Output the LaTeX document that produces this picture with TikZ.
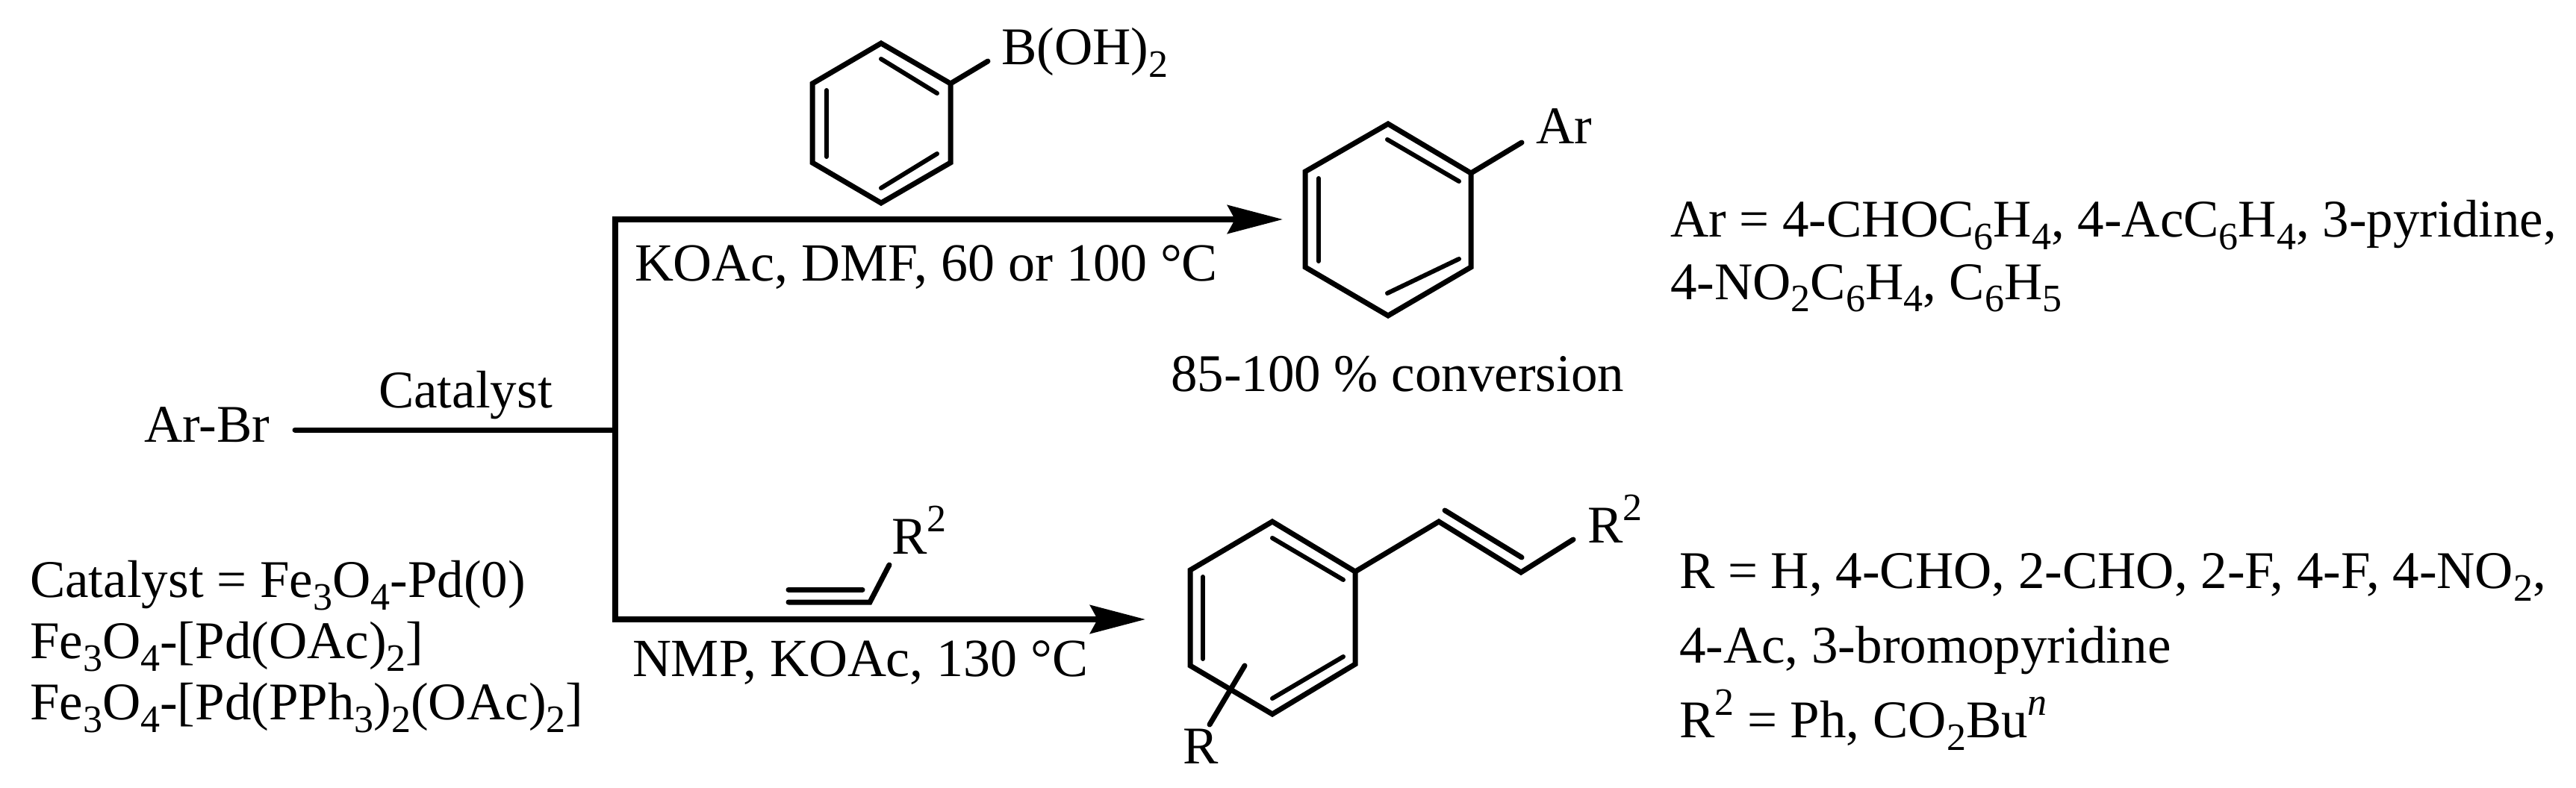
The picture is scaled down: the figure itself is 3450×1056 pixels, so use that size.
\documentclass[tikz,border=0pt]{standalone}
\usepackage{fontspec}
\setmainfont{Liberation Serif}
\usetikzlibrary{arrows.meta}
\newcommand{\lo}[1]{\raisebox{-17pt}{\fontsize{52}{52}\selectfont #1}}
\newcommand{\hi}[1]{\raisebox{30pt}{\fontsize{52}{52}\selectfont #1}}
\tikzset{
  x=1pt,y=-1pt,
  chemtext/.style={inner sep=0pt,outer sep=0pt,anchor=base west,font=\fontsize{71}{82}\selectfont},
  condtext/.style={chemtext,font=\fontsize{72}{82}\selectfont},
  bond/.style={line width=7pt,line cap=round,line join=miter,black},
  innerbond/.style={bond,line width=6pt},
  rxn/.style={line width=7.5pt,black},
  rxnhead/.style={rxn,-{Stealth[length=74pt,width=38pt,inset=10pt]}},
}
\begin{document}
\begin{tikzpicture}
\useasboundingbox (0,0) rectangle (3450,1056);
% texts
\node[chemtext] (arbr) at (193,592) {Ar-Br};
\node[chemtext] (cat) at (507,546) {Catalyst};
\node[chemtext] (c1) at (40,800) {Catalyst = Fe\lo{3}O\lo{4}-Pd(0)};
\node[chemtext] (c2) at (40,882) {Fe\lo{3}O\lo{4}-[Pd(OAc)\lo{2}]};
\node[chemtext] (c3) at (40,964) {Fe\lo{3}O\lo{4}-[Pd(PPh\lo{3})\lo{2}(OAc)\lo{2}]};
\node[condtext] (cond1) at (850,377) {KOAc, DMF, 60 or 100 °C};
\node[condtext] (cond2) at (847,906) {NMP, KOAc, 130 °C};
\node[chemtext] (boh) at (1341,87) {B(OH)\lo{2}};
\node[chemtext] (ar) at (2057,193) {Ar};
\node[chemtext] (conv) at (1568,524) {85-100 \% conversion};
\node[chemtext] (ralk) at (1194,742) {R\hi{2}};
\node[chemtext] (rprod) at (2126,727) {R\hi{2}};
\node[chemtext] (rsub) at (1584,1023) {R};
\node[chemtext] (a1) at (2237,318) {Ar = 4-CHOC\lo{6}H\lo{4}, 4-AcC\lo{6}H\lo{4}, 3-pyridine,};
\node[chemtext] (a2) at (2237,401) {4-NO\lo{2}C\lo{6}H\lo{4}, C\lo{6}H\lo{5}};
\node[chemtext] (r1) at (2249,788) {R = H, 4-CHO, 2-CHO, 2-F, 4-F, 4-NO\lo{2},};
\node[chemtext] (r2) at (2249,888) {4-Ac, 3-bromopyridine};
\node[chemtext] (r3) at (2249,988) {R\hi{2} = Ph, CO\lo{2}Bu\hi{\itshape n}};
% reaction scheme
\coordinate (start) at (395,576);
\coordinate (branch) at (824,576);
\coordinate (top) at (824,294);
\coordinate (bot) at (824,830);
\coordinate (tipA) at (1718,294);
\coordinate (tipB) at (1534,830);
\draw[bond] (start) -- (branch);
\draw[rxn,line cap=rect] (top) -- (bot);
\draw[rxnhead] (top) -- (tipA);
\draw[rxnhead] (bot) -- (tipB);
% boronic acid ring
\coordinate (b1) at (1180,58);
\coordinate (b2) at (1273,112);
\coordinate (b3) at (1273,218);
\coordinate (b4) at (1180,272);
\coordinate (b5) at (1088,218);
\coordinate (b6) at (1088,112);
\coordinate (bs) at (1323,82);
\draw[bond] (b1) -- (b2) -- (b3) -- (b4) -- (b5) -- (b6) -- cycle;
\draw[bond] (b2) -- (bs);
\draw[innerbond] (1180,79) -- (1255,125);
\draw[innerbond] (1180,252) -- (1255,206);
\draw[innerbond] (1107,121) -- (1107,210);
% product 1 ring
\coordinate (p1) at (1859,166);
\coordinate (p2) at (1970,232);
\coordinate (p3) at (1970,358);
\coordinate (p4) at (1859,423);
\coordinate (p5) at (1748,358);
\coordinate (p6) at (1748,230);
\coordinate (ps) at (2038,191);
\draw[bond] (p1) -- (p2) -- (p3) -- (p4) -- (p5) -- (p6) -- cycle;
\draw[bond] (p2) -- (ps);
\draw[innerbond] (1858,187) -- (1954,243);
\draw[innerbond] (1858,393) -- (1954,347);
\draw[innerbond] (1766,239) -- (1766,350);
% alkene reagent
\coordinate (e1) at (1056,807);
\coordinate (e2) at (1165,807);
\coordinate (e3) at (1191,757);
\draw[bond] (e1) -- (e2) -- (e3);
\draw[bond] (1056,790) -- (1155,790);
% product 2 ring
\coordinate (q1) at (1704,699);
\coordinate (q2) at (1815,766);
\coordinate (q3) at (1815,890);
\coordinate (q4) at (1704,957);
\coordinate (q5) at (1594,892);
\coordinate (q6) at (1594,764);
\coordinate (v1) at (1927,699);
\coordinate (v2) at (2037,767);
\coordinate (v3) at (2107,723);
\coordinate (s1) at (1667,892);
\coordinate (s2) at (1620,971);
\draw[bond] (q1) -- (q2) -- (q3) -- (q4) -- (q5) -- (q6) -- cycle;
\draw[bond] (q2) -- (v1) -- (v2) -- (v3);
\draw[bond] (1935,684) -- (2038,747);
\draw[bond] (s1) -- (s2);
\draw[innerbond] (1704,721) -- (1799,777);
\draw[innerbond] (1704,936) -- (1799,880);
\draw[innerbond] (1611,773) -- (1611,883);
\end{tikzpicture}
\end{document}
